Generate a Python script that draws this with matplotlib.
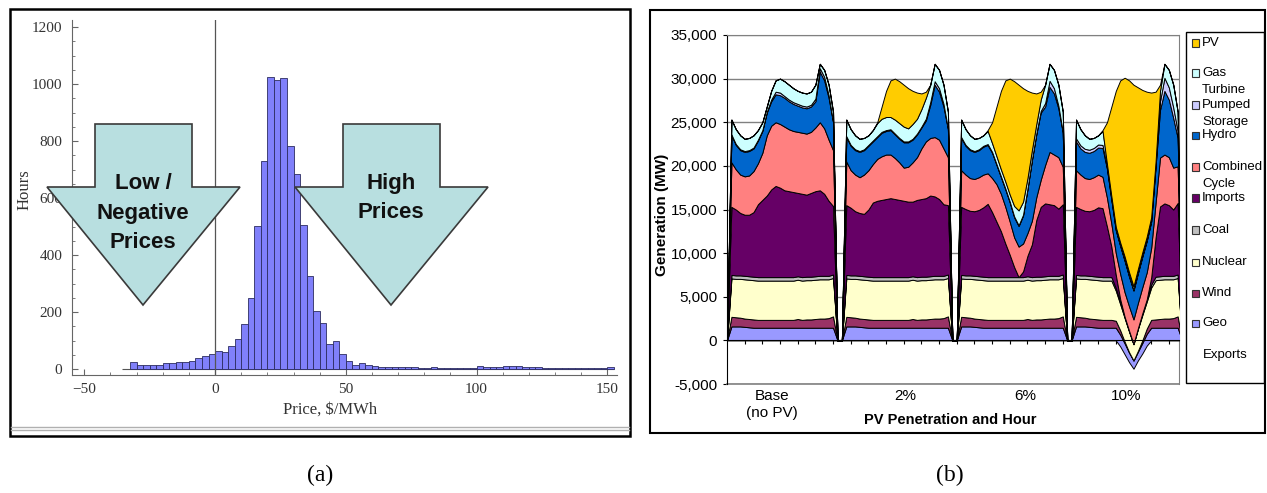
import numpy as np
import matplotlib
matplotlib.use("Agg")
import matplotlib.pyplot as plt
from matplotlib import font_manager as fm
from matplotlib.patches import Polygon, Rectangle
from matplotlib.lines import Line2D
from matplotlib.ticker import FuncFormatter, MultipleLocator
import matplotlib.transforms as mtransforms

W, H = 1267, 493

# ---------------- (a) price histogram ----------------
bin_width = 2.5
bin_starts = list(np.arange(-32.5, 152.5, bin_width))
hours = [23, 13, 13, 13, 13, 21, 21, 24, 25, 28, 37, 44, 54,
         62, 61, 81, 107, 157, 250, 501, 730, 1024, 1015, 1020, 784, 683, 505, 328, 204, 162, 88, 100, 53,
         27, 14, 22, 14, 12, 8, 8, 8, 8, 8, 6, 4, 4, 6, 5, 3, 3, 3, 4, 4,
         11, 6, 8, 7, 9, 9, 12, 7, 8, 6, 5, 5, 5, 4, 5, 5, 4, 4, 4, 2, 8]

# ---------------- (b) generation stack, GW per hour (4 cases x 24 h) ----------------
cases = ["Base\n(no PV)", "2%", "6%", "10%"]

exports = [0] * 24 + [0] * 24 + [0] * 24 + \
    [0, 0, 0, 0, 0, 0, 0, 0, 0, 0, -0.7, -1.6, -2.5, -3.25, -2.3, -1.5, -0.6, 0, 0, 0, 0, 0, 0, 0]
geo = [1.6, 1.6, 1.6, 1.55, 1.5, 1.45, 1.45, 1.45, 1.45, 1.45, 1.45, 1.45, 1.45, 1.45, 1.45, 1.45, 1.45, 1.45, 1.45, 1.45, 1.45, 1.45, 1.45, 1.45,
       1.6, 1.6, 1.6, 1.55, 1.5, 1.45, 1.45, 1.45, 1.45, 1.45, 1.45, 1.45, 1.45, 1.45, 1.45, 1.45, 1.45, 1.45, 1.45, 1.45, 1.45, 1.45, 1.45, 1.45,
       1.6, 1.6, 1.6, 1.55, 1.5, 1.45, 1.45, 1.45, 1.45, 1.45, 1.45, 1.45, 1.45, 1.45, 1.45, 1.45, 1.45, 1.45, 1.45, 1.45, 1.45, 1.45, 1.45, 1.45,
       1.6, 1.6, 1.6, 1.55, 1.5, 1.45, 1.45, 1.45, 1.45, 1.45, 1.35, 1.25, 1.1, 0.95, 1.0, 1.2, 1.35, 1.45, 1.45, 1.45, 1.45, 1.45, 1.45, 1.45]
wind = [1.1, 1.05, 1.0, 0.95, 0.95, 0.95, 0.9, 0.9, 0.9, 0.9, 0.9, 0.9, 0.9, 0.9, 0.9, 1.0, 0.9, 0.95, 0.95, 1.0, 1.05, 1.05, 1.1, 1.3,
        1.1, 1.05, 1.0, 0.95, 0.95, 0.95, 0.9, 0.9, 0.9, 0.9, 0.9, 0.9, 0.9, 0.9, 0.9, 1.0, 0.9, 0.95, 0.95, 1.0, 1.05, 1.05, 1.1, 1.3,
        1.1, 1.05, 1.0, 0.95, 0.95, 0.95, 0.9, 0.9, 0.9, 0.9, 0.9, 0.9, 0.9, 0.9, 0.9, 1.0, 0.9, 0.95, 0.95, 1.0, 1.05, 1.05, 1.1, 1.3,
        1.1, 1.05, 1.0, 0.95, 0.95, 0.95, 0.9, 0.9, 0.9, 0.8, 0.5, 0.2, 0.05, 0.0, 0.1, 0.3, 0.6, 0.9, 0.95, 1.0, 1.05, 1.05, 1.1, 1.3]
nuclear = [4.4, 4.4, 4.45, 4.5, 4.5, 4.5, 4.5, 4.5, 4.5, 4.5, 4.5, 4.5, 4.5, 4.5, 4.5, 4.5, 4.5, 4.5, 4.5, 4.5, 4.5, 4.5, 4.45, 4.4,
           4.4, 4.4, 4.45, 4.5, 4.5, 4.5, 4.5, 4.5, 4.5, 4.5, 4.5, 4.5, 4.5, 4.5, 4.5, 4.5, 4.5, 4.5, 4.5, 4.5, 4.5, 4.5, 4.45, 4.4,
           4.4, 4.4, 4.45, 4.5, 4.5, 4.5, 4.5, 4.5, 4.5, 4.5, 4.5, 4.5, 4.5, 4.5, 4.5, 4.5, 4.5, 4.5, 4.5, 4.5, 4.5, 4.5, 4.45, 4.4,
           4.4, 4.4, 4.45, 4.5, 4.5, 4.5, 4.5, 4.5, 4.5, 3.45, 3.0, 2.7, 2.35, 1.85, 2.5, 2.9, 3.1, 3.7, 4.5, 4.5, 4.5, 4.5, 4.45, 4.4]
coal = [0.4] * 24 + [0.4] * 24 + [0.4] * 24 + \
    [0.4, 0.4, 0.4, 0.4, 0.4, 0.4, 0.4, 0.4, 0.4, 0.3, 0.25, 0.15, 0.1, 0.05, 0.1, 0.2, 0.25, 0.35, 0.4, 0.4, 0.4, 0.4, 0.4, 0.4]
imports = [7.8, 7.55, 7.15, 7.0, 7.05, 7.4, 8.35, 8.85, 9.35, 10.05, 10.45, 10.25, 9.95, 9.85, 9.75, 9.55, 9.55, 9.4, 9.6, 9.75, 9.8, 9.4, 8.6, 7.85,
           8.0, 7.75, 7.35, 7.2, 7.15, 7.7, 8.55, 8.75, 8.85, 8.95, 9.05, 8.95, 8.85, 8.75, 8.65, 8.55, 8.85, 8.9, 9.0, 9.25, 9.1, 8.8, 8.2, 7.95,
           7.8, 7.6, 7.4, 7.4, 7.6, 7.95, 8.4, 7.45, 6.35, 5.25, 3.85, 2.55, 1.15, 0.0, 0.65, 2.35, 3.75, 6.5, 8.0, 8.35, 8.2, 8.1, 7.7, 8.05,
           7.8, 7.6, 7.4, 7.4, 7.6, 7.95, 7.9, 5.8, 3.5, 1.5, 0.3, 0, 0, 0, 0, 0, 0, 0.8, 4.5, 8.0, 8.3, 8.1, 7.6, 8.2]
combined_cycle = [5.1, 4.6, 4.4, 4.4, 4.5, 4.7, 4.7, 5.4, 6.9, 7.3, 7.3, 7.3, 7.3, 7.1, 7.0, 7.0, 7.0, 7.0, 7.0, 7.3, 7.8, 7.5, 7.0, 6.4,
                  5.0, 4.3, 4.2, 4.1, 4.5, 4.5, 4.4, 4.8, 5.0, 5.1, 5.0, 4.7, 4.3, 3.8, 4.0, 4.5, 4.9, 5.8, 6.5, 6.6, 6.8, 6.8, 6.4, 5.5,
                  4.2, 3.95, 3.75, 3.7, 3.75, 3.75, 3.5, 3.9, 4.3, 4.3, 4.2, 3.8, 3.4, 3.5, 3.2, 2.6, 2.7, 2.6, 3.1, 4.4, 6.0, 5.8, 5.9, 4.3,
                  4.2, 3.95, 3.75, 3.7, 3.75, 3.75, 3.6, 3.3, 2.6, 2.5, 2.9, 2.8, 2.8, 2.8, 2.9, 3.0, 3.1, 3.4, 4.0, 5.6, 5.6, 5.5, 4.8, 4.2]
hydro = [3.1, 2.8, 2.8, 2.8, 2.8, 2.6, 2.6, 2.5, 2.6, 2.8, 3.2, 3.3, 3.3, 3.2, 3.1, 3.0, 2.9, 2.9, 2.9, 3.0, 5.8, 5.5, 4.8, 3.2,
         2.8, 2.8, 2.8, 2.9, 2.8, 2.8, 2.6, 2.5, 2.7, 2.7, 2.8, 2.7, 2.7, 2.9, 2.8, 2.6, 2.6, 2.4, 2.4, 3.8, 6.0, 5.5, 4.8, 3.2,
         3.7, 3.3, 3.2, 3.1, 3.1, 3.2, 3.25, 2.9, 2.2, 1.9, 2.0, 2.2, 2.3, 2.35, 3.2, 5.0, 6.9, 7.2, 7.7, 6.7, 7.45, 7.0, 5.6, 3.9,
         3.3, 3.0, 3.0, 3.0, 3.0, 3.1, 3.3, 3.3, 2.75, 2.6, 3.2, 3.6, 3.4, 3.3, 3.4, 3.5, 3.6, 3.0, 4.1, 5.45, 7.3, 6.6, 5.7, 3.25]
pumped_storage = [0.1, 0.1, 0.1, 0.1, 0.1, 0.1, 0.1, 0.1, 0.1, 0.2, 0.3, 0.3, 0.2, 0.2, 0.2, 0.2, 0.2, 0.2, 0.2, 0.3, 0.4, 0.4, 0.3, 0.1,
                  0.1, 0.1, 0.1, 0.1, 0.1, 0.1, 0.1, 0.1, 0.1, 0.1, 0.1, 0.1, 0.1, 0.1, 0.1, 0.1, 0.1, 0.1, 0.2, 0.3, 0.4, 0.4, 0.3, 0.1,
                  0.1, 0.1, 0.1, 0.1, 0.1, 0.1, 0.1, 0.1, 0.1, 0.1, 0.1, 0.1, 0.1, 0.1, 0.1, 0.1, 0.1, 0.1, 0.2, 0.4, 0.7, 0.6, 0.3, 0.1,
                  0.35, 0.35, 0.35, 0.35, 0.35, 0.35, 0.35, 0.15, 0.1, 0.1, 0.1, 0.1, 0.1, 0.1, 0.1, 0.1, 0.1, 0.1, 0.2, 1.0, 1.5, 1.4, 1.2, 0.8]
gas_turbine = [1.7, 1.7, 1.6, 1.4, 1.4, 1.4, 1.1, 0.9, 0.6, 1.0, 1.3, 1.6, 1.7, 1.7, 1.6, 1.5, 1.5, 1.5, 1.5, 1.6, 0.5, 0.8, 1.2, 1.1,
               1.9, 1.8, 1.6, 1.4, 1.3, 1.1, 1.2, 1.5, 1.5, 1.5, 1.4, 1.6, 1.7, 1.7, 1.5, 1.7, 1.7, 2.0, 2.4, 2.0, 2.0, 2.1, 2.2, 1.9,
               2.0, 1.8, 1.6, 1.4, 1.3, 1.2, 1.5, 1.0, 0.9, 0.8, 0.8, 0.8, 1.2, 1.7, 1.5, 1.2, 1.1, 1.1, 1.3, 2.1, 1.95, 2.1, 2.4, 2.3,
               2.15, 1.85, 1.55, 1.25, 1.15, 1.05, 1.6, 0.4, 0.3, 0.3, 0.3, 0.4, 0.4, 0.4, 0.4, 0.4, 0.4, 0.4, 0.4, 1.2, 1.6, 2.0, 2.6, 2.2]
pv = [0] * 24 + \
    [0, 0, 0, 0, 0, 0, 0, 0.1, 1.4, 3.0, 4.2, 4.7, 4.8, 4.8, 4.6, 3.8, 3.0, 1.8, 0.7, 0, 0, 0, 0, 0] + \
    [0, 0, 0, 0, 0, 0, 0.1, 2.4, 5.7, 9.0, 11.6, 13.3, 14.3, 14.4, 13.0, 10.0, 6.6, 3.5, 0.9, 0, 0, 0, 0, 0] + \
    [0, 0, 0, 0, 0, 0, 0.1, 4.8, 10.3, 15.6, 18.6, 20.5, 22.0, 23.1, 20.8, 18.6, 16.6, 14.3, 8.0, 0.7, 0, 0, 0, 0]

# stacking order bottom -> top
layers = [
    ("Geo", geo, "#9999ff"),
    ("Wind", wind, "#993366"),
    ("Nuclear", nuclear, "#ffffcc"),
    ("Coal", coal, "#c0c0c0"),
    ("Imports", imports, "#660066"),
    ("Combined\nCycle", combined_cycle, "#ff8080"),
    ("Hydro", hydro, "#0066cc"),
    ("Pumped\nStorage", pumped_storage, "#ccccff"),
    ("Gas\nTurbine", gas_turbine, "#ccffff"),
    ("PV", pv, "#ffcc00"),
]

fig = plt.figure(figsize=(W / 100, H / 100), dpi=100)
fig.patch.set_facecolor("white")


def fx(px):
    return px / W


def fy(py):
    return 1 - py / H


serif = ["Liberation Serif", "DejaVu Serif"]
sans = ["Liberation Sans", "DejaVu Sans"]
names = {f.name for f in fm.fontManager.ttflist}
narrow = ["Liberation Sans Narrow", "Liberation Sans"] if "Liberation Sans Narrow" in names else sans

# ---------- panel (a) ----------
ax1 = fig.add_axes([fx(72), fy(375), fx(617) - fx(72), (375 - 20) / H])
ax1.bar(bin_starts, hours, width=bin_width, align="edge", color="#8080fa",
        edgecolor="#2c2c60", linewidth=0.6, zorder=2)
ax1.hlines(0, -35.5, 152.5, color="#555555", lw=0.8, zorder=1)
ax1.axvline(0, color="#555555", lw=0.9, zorder=3)
ax1.set_xlim(-54.7, 153.7)
ax1.set_ylim(-21, 1225)
for s in ["top", "right"]:
    ax1.spines[s].set_visible(False)
for s in ["left", "bottom"]:
    ax1.spines[s].set_color("#666666")
ax1.set_xticks([-50, 0, 50, 100, 150])
ax1.set_yticks(range(0, 1201, 200))
ax1.xaxis.set_minor_locator(MultipleLocator(10))
ax1.yaxis.set_minor_locator(MultipleLocator(50))
ax1.tick_params(direction="in", length=4, color="#666666", labelcolor="#333333", labelsize=11)
ax1.tick_params(axis="y", pad=7)
ax1.tick_params(axis="x", pad=6)
ax1.tick_params(which="minor", direction="in", length=2, color="#666666")
for lab in ax1.get_xticklabels() + ax1.get_yticklabels():
    lab.set_family(serif)
fig.text(fx(330), fy(410), "Price, \\$/MWh", ha="center", va="center", fontsize=12,
         family=serif, color="#333333")
fig.text(fx(25), fy(190), "Hours", ha="center", va="center", rotation=90, fontsize=12,
         family=serif, color="#333333")

# big arrows
arrow_fc, arrow_ec = "#b8dfe0", "#3a3a3a"
for cx in (143, 391):
    pts = [(cx - 48, 124), (cx + 49, 124), (cx + 49, 187), (cx + 97, 187),
           (cx, 305), (cx - 96, 187), (cx - 48, 187)]
    fig.add_artist(Polygon([(fx(a), fy(b)) for a, b in pts], closed=True,
                           transform=fig.transFigure, fc=arrow_fc, ec=arrow_ec, lw=1.2, zorder=5))
fig.text(fx(143), fy(213), "Low /\nNegative\nPrices", ha="center", va="center", fontsize=16,
         fontweight="bold", linespacing=1.55, family=narrow, color="#111111", zorder=6)
fig.text(fx(391), fy(198), "High\nPrices", ha="center", va="center", fontsize=16,
         fontweight="bold", linespacing=1.55, family=narrow, color="#111111", zorder=6)

# frame (a)
fig.add_artist(Rectangle((fx(10), fy(436)), fx(630) - fx(10), (436 - 9) / H, transform=fig.transFigure,
                         fill=False, ec="black", lw=1.8, zorder=7))
for yy in (426.5, 429.5):
    fig.add_artist(Line2D([fx(11), fx(629)], [fy(yy), fy(yy)], transform=fig.transFigure,
                          color="#b0b0b0", lw=1.0, zorder=7))

# ---------- panel (b) ----------
ax2 = fig.add_axes([fx(727), fy(384), fx(1179) - fx(727), (384 - 35) / H])
n_cat = 26 * len(cases)
x = np.arange(n_cat)


def expand(vals):
    out = np.zeros(n_cat)
    for g in range(len(cases)):
        out[26 * g + 1: 26 * g + 25] = np.asarray(vals[24 * g: 24 * g + 24]) * 1000
    return out


base = expand(exports)
for name, vals, col in layers:
    top = base + expand(vals)
    ax2.fill_between(x, base, top, facecolor=col, edgecolor="black", linewidth=0.7, zorder=3)
    base = top

ax2.set_xlim(0, 102.3)
ax2.set_ylim(-5000, 35000)
ax2.set_yticks(range(-5000, 35001, 5000))
ax2.yaxis.set_major_formatter(FuncFormatter(lambda v, p: f"{v:,.0f}"))
ax2.grid(axis="y", color="#808080", lw=1.0, zorder=1)
ax2.set_axisbelow(True)
ax2.set_xticks(np.arange(4, 101, 4))
ax2.set_xticklabels([])
ax2.spines["bottom"].set_position(("data", 0))
ax2.spines["bottom"].set_color("black")
ax2.spines["bottom"].set_zorder(4)
ax2.spines["left"].set_color("black")
for s in ["top", "right"]:
    ax2.spines[s].set_color("#808080")
ax2.axhline(-5000, color="#808080", lw=1.2, clip_on=False)
ax2.tick_params(axis="y", direction="out", length=3, pad=4, labelsize=11, colors="black")
ax2.tick_params(axis="x", direction="out", length=3, colors="black")
for lab in ax2.get_yticklabels():
    lab.set_family(sans)

trans = mtransforms.blended_transform_factory(ax2.transData, ax2.transAxes)
case_pos = [10.2, 40.3, 67.4, 90.3]
for cpos, lab in zip(case_pos, cases):
    ax2.text(cpos, -0.015, lab, transform=trans, ha="center", va="top", fontsize=11,
             family=sans, linespacing=1.25)

fig.text(fx(950), fy(420), "PV Penetration and Hour", ha="center", va="center", fontsize=10.5,
         fontweight="bold", family=sans)
fig.text(fx(662), fy(215), "Generation (MW)", ha="center", va="center", rotation=90, fontsize=11,
         fontweight="bold", family=sans)

# legend (top to bottom)
fig.add_artist(Rectangle((fx(1186), fy(383)), fx(1264) - fx(1186), (383 - 32) / H,
                         transform=fig.transFigure, fill=False, ec="black", lw=1.0, zorder=7))
leg_y = [43, 73, 105, 135, 167, 198, 230, 262, 293, 323]
for yy, (name, vals, col) in zip(leg_y, layers[::-1]):
    fig.add_artist(Rectangle((fx(1192), fy(yy + 3.5)), 6.5 / W, 7 / H, transform=fig.transFigure,
                             fc=col, ec="#333333", lw=0.8, zorder=7))
    for k, part in enumerate(name.split("\n")):
        fig.text(fx(1202), fy(yy + 17 * k), part, ha="left", va="center", fontsize=9.5, family=sans)
fig.text(fx(1203), fy(355), "Exports", ha="left", va="center", fontsize=9.5, family=sans)

# frame (b)
fig.add_artist(Rectangle((fx(650), fy(433)), fx(1265) - fx(650), (433 - 10) / H, transform=fig.transFigure,
                         fill=False, ec="black", lw=1.5, zorder=7))

fig.text(fx(320), fy(475), "(a)", ha="center", va="center", fontsize=17, family=serif)
fig.text(fx(950), fy(475), "(b)", ha="center", va="center", fontsize=17, family=serif)

fig.savefig("out.png", dpi=100)
